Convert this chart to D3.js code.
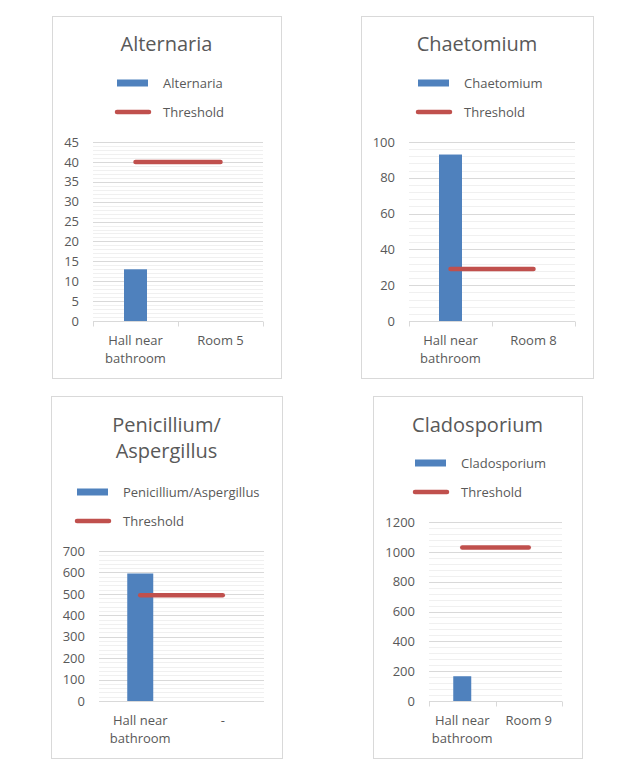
<!DOCTYPE html>
<html>
<head>
<meta charset="utf-8">
<script src="https://cdn.jsdelivr.net/npm/d3@7"></script>
<style>
  html, body { margin: 0; padding: 0; background: #ffffff; }
  svg { display: block; }
  text { font-family: "Open Sans", "Noto Sans", sans-serif; fill: #595959; }
</style>
</head>
<body>
<svg id="chart" width="633" height="769"></svg>
<script>
// ---- data ----
const chartTitles = [["Alternaria"], ["Chaetomium"], ["Penicillium/", "Aspergillus"], ["Cladosporium"]];
const seriesNames = ["Alternaria", "Chaetomium", "Penicillium/Aspergillus", "Cladosporium"];
const thresholdName = "Threshold";
const categories = [
  [["Hall near", "bathroom"], ["Room 5"]],
  [["Hall near", "bathroom"], ["Room 8"]],
  [["Hall near", "bathroom"], ["-"]],
  [["Hall near", "bathroom"], ["Room 9"]]
];
const barValues = [[13, null], [93, null], [595, null], [166, null]];
const thresholdValues = [[40, 40], [29, 29], [493, 493], [1029, 1029]];
const yTicks = [
  [0, 5, 10, 15, 20, 25, 30, 35, 40, 45],
  [0, 20, 40, 60, 80, 100],
  [0, 100, 200, 300, 400, 500, 600, 700],
  [0, 200, 400, 600, 800, 1000, 1200]
];
const minorDivisions = 5;

// ---- layout ----
const layouts = [
  { box: [52, 16, 281, 378], plot: [93, 142, 263, 321], titleY: 51, legY: 83, legX: 117, textX: 163, barW: 23, xTicks: true, labY: 345 },
  { box: [361, 16, 593, 378], plot: [409, 142, 575, 321], titleY: 51, legY: 83, legX: 418, textX: 464, barW: 23, xTicks: true, labY: 345 },
  { box: [51, 396, 282, 758], plot: [99, 551, 264, 701], titleY: 432, legY: 492, legX: 77, textX: 123, barW: 26, xTicks: false, labY: 725 },
  { box: [373, 396, 582, 758], plot: [429, 522, 562, 701], titleY: 432, legY: 463, legX: 415, textX: 461, barW: 18, xTicks: true, labY: 725 }
];

const barColor = "#4f81bd";
const lineColor = "#c0504d";
const svg = d3.select("#chart");

layouts.forEach((L, i) => {
  const g = svg.append("g");
  const [bx0, by0, bx1, by1] = L.box;
  g.append("rect").attr("x", bx0 + 0.5).attr("y", by0 + 0.5)
    .attr("width", bx1 - bx0).attr("height", by1 - by0)
    .attr("fill", "#fff").attr("stroke", "#d9d9d9").attr("stroke-width", 1);

  // title
  const cx = (bx0 + bx1) / 2;
  chartTitles[i].forEach((t, k) => {
    g.append("text").attr("x", cx).attr("y", L.titleY + k * 26)
      .attr("text-anchor", "middle").style("font-size", "20px").text(t);
  });

  // legend
  g.append("rect").attr("x", L.legX).attr("y", L.legY - 3.5)
    .attr("width", 31).attr("height", 7).attr("fill", barColor);
  g.append("text").attr("x", L.textX).attr("y", L.legY).attr("dy", "0.36em")
    .style("font-size", "13px").text(seriesNames[i]);
  g.append("line").attr("x1", L.legX).attr("x2", L.legX + 32)
    .attr("y1", L.legY + 29).attr("y2", L.legY + 29)
    .attr("stroke", lineColor).attr("stroke-width", 4.5).attr("stroke-linecap", "round");
  g.append("text").attr("x", L.textX).attr("y", L.legY + 29).attr("dy", "0.36em")
    .style("font-size", "13px").text(thresholdName);

  // scales
  const [px0, py0, px1, py1] = L.plot;
  const ticks = yTicks[i];
  const yMax = ticks[ticks.length - 1];
  const y = d3.scaleLinear().domain([0, yMax]).range([py1, py0]);
  const x = d3.scaleBand().domain(d3.range(categories[i].length)).range([px0, px1]).padding(0);

  // minor gridlines
  const step = ticks[1] - ticks[0];
  const minor = d3.range(0, yMax, step / minorDivisions).filter(v => Math.abs(v / step - Math.round(v / step)) > 1e-6);
  g.append("g").selectAll("line").data(minor).join("line")
    .attr("x1", px0).attr("x2", px1)
    .attr("y1", d => Math.round(y(d)) + 0.5).attr("y2", d => Math.round(y(d)) + 0.5)
    .attr("stroke", "#f0f0f0").attr("stroke-width", 1);

  // y axis (labels + major gridlines)
  const yAxis = d3.axisLeft(y).tickValues(ticks).tickSize(0).tickPadding(14).tickFormat(d3.format("d"));
  const ya = g.append("g").attr("transform", `translate(${px0},0)`).call(yAxis);
  ya.select(".domain").remove();
  ya.selectAll("text").style("font-size", "13px").attr("fill", "#595959")
    .style("font-family", "'Open Sans', 'Noto Sans', sans-serif");
  g.append("g").selectAll("line").data(ticks.filter(t => t > 0)).join("line")
    .attr("x1", px0).attr("x2", px1)
    .attr("y1", d => Math.round(y(d)) + 0.5).attr("y2", d => Math.round(y(d)) + 0.5)
    .attr("stroke", "#d9d9d9").attr("stroke-width", 1);

  // x axis line
  g.append("line").attr("x1", px0).attr("x2", px1)
    .attr("y1", Math.round(y(0)) + 0.5).attr("y2", Math.round(y(0)) + 0.5)
    .attr("stroke", "#d9d9d9");
  if (L.xTicks) {
    const bounds = d3.range(categories[i].length + 1).map(k => px0 + k * x.step());
    g.append("g").selectAll("line").data(bounds).join("line")
      .attr("x1", d => Math.round(d) + 0.5).attr("x2", d => Math.round(d) + 0.5)
      .attr("y1", Math.round(y(0)) + 0.5).attr("y2", Math.round(y(0)) + 5.5)
      .attr("stroke", "#d9d9d9");
  }

  // category labels
  categories[i].forEach((lines, k) => {
    lines.forEach((ln, j) => {
      g.append("text").attr("x", x(k) + x.bandwidth() / 2).attr("y", L.labY + j * 18)
        .attr("text-anchor", "middle").style("font-size", "13px").text(ln);
    });
  });

  // bars
  g.append("g").selectAll("rect").data(barValues[i].map((v, k) => ({ v, k })).filter(d => d.v != null))
    .join("rect")
    .attr("x", d => x(d.k) + x.bandwidth() / 2 - L.barW / 2)
    .attr("width", L.barW)
    .attr("y", d => y(d.v))
    .attr("height", d => y(0) - y(d.v))
    .attr("fill", barColor);

  // threshold line
  const line = d3.line().x((d, k) => x(k) + x.bandwidth() / 2).y(d => y(d));
  g.append("path").datum(thresholdValues[i]).attr("d", line)
    .attr("fill", "none").attr("stroke", lineColor).attr("stroke-width", 4.5)
    .attr("stroke-linecap", "round");
});
</script>
</body>
</html>
